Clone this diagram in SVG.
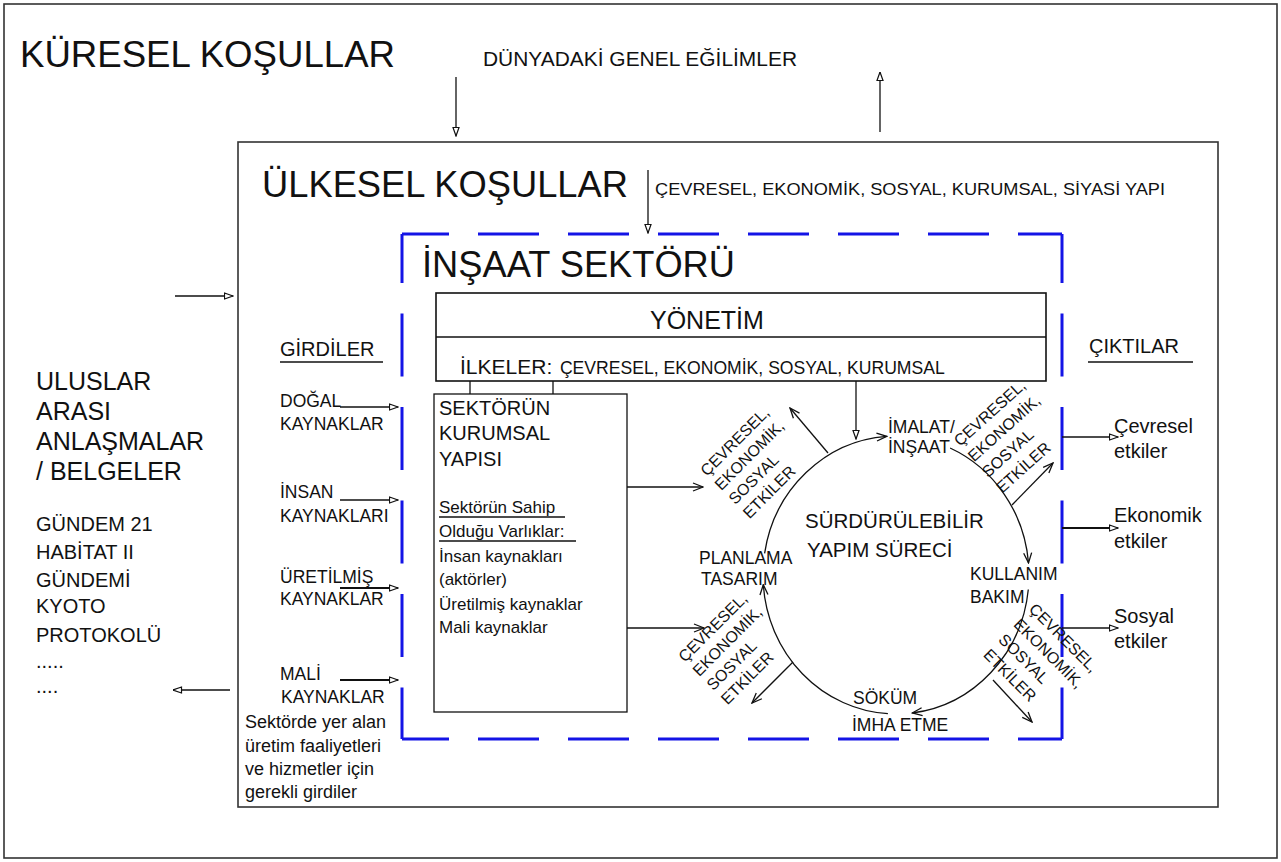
<svg xmlns="http://www.w3.org/2000/svg" width="1281" height="862" viewBox="0 0 1281 862">
<defs>
<style>
.t{font-family:"Liberation Sans",Arial,sans-serif;fill:#111}
.ln{stroke:#111;stroke-width:1.3;fill:none}
.thk{stroke:#111;stroke-width:2.2;fill:none}
.frame{stroke:#333;stroke-width:1.6;fill:#fff}
.blue{stroke:#1414e6;stroke-width:3;fill:none}
.rot{font-size:16px}
.lbl{font-size:17.5px}
</style>
<marker id="tri" viewBox="0 0 10 8" refX="9.5" refY="4" markerWidth="10" markerHeight="8" markerUnits="userSpaceOnUse" orient="auto"><path d="M1,1 L9.5,4 L1,7 Z" fill="#fff" stroke="#111" stroke-width="1.2"/></marker>
<marker id="vee" viewBox="0 0 12 10" refX="11" refY="5" markerWidth="12" markerHeight="10" markerUnits="userSpaceOnUse" orient="auto"><path d="M1,1 L11,5 L1,9" fill="none" stroke="#111" stroke-width="1.3"/></marker>
</defs>
<rect width="1281" height="862" fill="#fff"/>

<g id="kuresel">
<rect class="frame" x="4" y="4" width="1273" height="854"/>
<text class="t" x="20" y="67" font-size="37" textLength="375" lengthAdjust="spacingAndGlyphs">KÜRESEL KOŞULLAR</text>
<text class="t" x="483" y="66" font-size="21" textLength="314" lengthAdjust="spacingAndGlyphs">DÜNYADAKİ GENEL EĞİLİMLER</text>
</g>

<g id="uluslar">
<text class="t" font-size="25"><tspan x="36" y="390">ULUSLAR</tspan><tspan x="36" y="420">ARASI</tspan><tspan x="36" y="450">ANLAŞMALAR</tspan><tspan x="36" y="480">/ BELGELER</tspan></text>
<text class="t" font-size="20"><tspan x="36" y="531">GÜNDEM 21</tspan><tspan x="36" y="559">HABİTAT II</tspan><tspan x="36" y="587">GÜNDEMİ</tspan><tspan x="36" y="613">KYOTO</tspan><tspan x="36" y="642">PROTOKOLÜ</tspan><tspan x="36" y="668">.....</tspan><tspan x="36" y="693">....</tspan></text>
</g>

<g id="ulkesel">
<rect class="frame" x="238" y="142" width="980" height="665"/>
<text class="t" x="262" y="197" font-size="37" textLength="366" lengthAdjust="spacingAndGlyphs">ÜLKESEL KOŞULLAR</text>
<text class="t" x="655" y="195" font-size="17" textLength="510" lengthAdjust="spacingAndGlyphs">ÇEVRESEL, EKONOMİK, SOSYAL, KURUMSAL, SİYASİ YAPI</text>
</g>

<g id="girdiler">
<text class="t" x="280" y="356" font-size="20">GİRDİLER</text>
<line class="ln" x1="280" y1="362" x2="383" y2="362"/>
<text class="t lbl"><tspan x="280" y="407">DOĞAL</tspan><tspan x="280" y="430">KAYNAKLAR</tspan></text>
<text class="t lbl"><tspan x="280" y="498">İNSAN</tspan><tspan x="280" y="522">KAYNAKLARI</tspan></text>
<text class="t lbl"><tspan x="280" y="583">ÜRETİLMİŞ</tspan><tspan x="280" y="605">KAYNAKLAR</tspan></text>
<text class="t lbl"><tspan x="280" y="680">MALİ</tspan><tspan x="281" y="703">KAYNAKLAR</tspan></text>
<text class="t" font-size="18"><tspan x="245" y="728">Sektörde yer alan</tspan><tspan x="245" y="752">üretim faaliyetleri</tspan><tspan x="245" y="775">ve hizmetler için</tspan><tspan x="245" y="798">gerekli girdiler</tspan></text>
</g>

<g id="insaat-sektoru">
<line class="blue" x1="402" y1="234" x2="1062" y2="234" stroke-dasharray="61 29" stroke-dashoffset="14"/>
<line class="blue" x1="402" y1="739" x2="1062" y2="739" stroke-dasharray="61 29" stroke-dashoffset="14"/>
<line class="blue" x1="402" y1="234" x2="402" y2="739" stroke-dasharray="63 30.5" stroke-dashoffset="14"/>
<line class="blue" x1="1062" y1="234" x2="1062" y2="739" stroke-dasharray="63 30.5" stroke-dashoffset="14"/>
<text class="t" x="422" y="277" font-size="36" textLength="313" lengthAdjust="spacingAndGlyphs">İNŞAAT SEKTÖRÜ</text>
</g>

<g id="yonetim">
<rect x="436" y="293" width="610" height="88" fill="#fff" stroke="#111" stroke-width="1.6"/>
<line class="ln" x1="436" y1="337" x2="1046" y2="337" stroke-width="1.6"/>
<text class="t" x="650" y="329" font-size="25">YÖNETİM</text>
<text class="t" y="374"><tspan x="460" font-size="21">İLKELER:</tspan><tspan x="555" font-size="17.6"> ÇEVRESEL, EKONOMİK, SOSYAL, KURUMSAL</tspan></text>
</g>

<g id="kurumsal-yapi">
<line class="ln" x1="470" y1="381" x2="470" y2="394"/>
<line class="ln" x1="553" y1="381" x2="553" y2="394"/>
<rect x="434" y="394" width="193" height="318" fill="#fff" stroke="#111" stroke-width="1.3"/>
<text class="t" font-size="20"><tspan x="439" y="415">SEKTÖRÜN</tspan><tspan x="439" y="440">KURUMSAL</tspan><tspan x="439" y="466">YAPISI</tspan></text>
<text class="t" font-size="17"><tspan x="439" y="513">Sektörün Sahip</tspan><tspan x="439" y="537">Olduğu Varlıklar:</tspan><tspan x="439" y="562">İnsan kaynakları</tspan><tspan x="439" y="585">(aktörler)</tspan><tspan x="439" y="610">Üretilmiş kaynaklar</tspan><tspan x="439" y="633">Mali kaynaklar</tspan></text>
<line class="ln" x1="439" y1="517" x2="565" y2="517"/>
<line class="ln" x1="439" y1="541" x2="576" y2="541"/>
</g>

<g id="cikti">
<text class="t" x="1089" y="353" font-size="20">ÇIKTILAR</text>
<line class="ln" x1="1088" y1="362" x2="1193" y2="362"/>
<text class="t" font-size="20"><tspan x="1114" y="433">Çevresel</tspan><tspan x="1114" y="458">etkiler</tspan></text>
<text class="t" font-size="20"><tspan x="1114" y="522">Ekonomik</tspan><tspan x="1114" y="548">etkiler</tspan></text>
<text class="t" font-size="20"><tspan x="1114" y="623">Sosyal</tspan><tspan x="1114" y="648">etkiler</tspan></text>
</g>

<g id="surec">
<text class="t" font-size="20.5"><tspan x="805" y="528">SÜRDÜRÜLEBİLİR</tspan><tspan x="807" y="557">YAPIM SÜRECİ</tspan></text>
<text class="t lbl"><tspan x="888" y="433">İMALAT/</tspan><tspan x="888" y="453">İNŞAAT</tspan></text>
<text class="t lbl"><tspan x="970" y="580">KULLANIM</tspan><tspan x="970" y="603">BAKIM</tspan></text>
<text class="t lbl"><tspan x="853" y="704">SÖKÜM</tspan><tspan x="852" y="731">İMHA ETME</tspan></text>
<text class="t lbl"><tspan x="699" y="564">PLANLAMA</tspan><tspan x="701" y="585">TASARIM</tspan></text>
</g>

<g id="etkiler-1" transform="translate(707,477) rotate(-45)">
<text class="t rot"><tspan x="0" y="0">ÇEVRESEL,</tspan><tspan x="0" y="20">EKONOMİK,</tspan><tspan x="0" y="40">SOSYAL</tspan><tspan x="0" y="60">ETKİLER</tspan></text>
</g>
<g id="etkiler-2" transform="translate(960,447) rotate(-42)">
<text class="t rot"><tspan x="0" y="0">ÇEVRESEL,</tspan><tspan x="0" y="21">EKONOMİK,</tspan><tspan x="0" y="42">SOSYAL</tspan><tspan x="0" y="63">ETKİLER</tspan></text>
</g>
<g id="etkiler-3" transform="translate(1028,610) rotate(45)">
<text class="t rot"><tspan x="0" y="0">ÇEVRESEL,</tspan><tspan x="0" y="21.5">EKONOMİK,</tspan><tspan x="0" y="43">SOSYAL</tspan><tspan x="0" y="64.5">ETKİLER</tspan></text>
</g>
<g id="etkiler-4" transform="translate(685,663) rotate(-45)">
<text class="t rot"><tspan x="0" y="0">ÇEVRESEL,</tspan><tspan x="0" y="20">EKONOMİK,</tspan><tspan x="0" y="40">SOSYAL</tspan><tspan x="0" y="60">ETKİLER</tspan></text>
</g>

<g id="connectors">
<line class="ln" x1="456" y1="77" x2="456" y2="136" marker-end="url(#tri)"/>
<line class="ln" x1="880" y1="132" x2="880" y2="72" marker-end="url(#tri)"/>
<line class="ln" x1="648" y1="170" x2="648" y2="233" marker-end="url(#tri)"/>
<line class="ln" x1="175" y1="296" x2="233" y2="296" marker-end="url(#tri)"/>
<line class="ln" x1="230" y1="690" x2="173" y2="690" marker-end="url(#tri)"/>
<line class="ln" x1="340" y1="407" x2="398" y2="407" marker-end="url(#tri)"/>
<line class="ln" x1="340" y1="500" x2="398" y2="500" marker-end="url(#tri)"/>
<line class="thk" x1="340" y1="588" x2="398" y2="588" marker-end="url(#tri)"/>
<line class="thk" x1="340" y1="680" x2="398" y2="680" marker-end="url(#tri)"/>
<line class="ln" x1="1062" y1="437" x2="1118" y2="437" marker-end="url(#tri)"/>
<line class="thk" x1="1062" y1="528" x2="1118" y2="528" marker-end="url(#tri)"/>
<line class="ln" x1="1062" y1="628" x2="1118" y2="628" marker-end="url(#tri)"/>
<line class="ln" x1="856" y1="381" x2="856" y2="439" marker-end="url(#tri)"/>
<line class="ln" x1="627" y1="487" x2="703" y2="487" marker-end="url(#vee)"/>
<line class="ln" x1="627" y1="628" x2="704" y2="628" marker-end="url(#vee)"/>
<path class="ln" d="M764.6,553.3 A133,139 0 0 1 886.7,436.3" marker-end="url(#vee)"/>
<path class="ln" d="M950.1,448 A133,139 0 0 1 1028.5,562.9" marker-end="url(#vee)"/>
<path class="ln" d="M1028.3,589.5 A133,139 0 0 1 912.2,713" marker-end="url(#vee)"/>
<path class="ln" d="M887.9,713.7 A133,139 0 0 1 763.3,584.7" marker-end="url(#vee)"/>
<line class="ln" x1="828" y1="453" x2="790" y2="408" marker-end="url(#vee)"/>
<line class="ln" x1="1012" y1="505" x2="1053" y2="463" marker-end="url(#vee)"/>
<line class="ln" x1="793" y1="662" x2="752" y2="703" marker-end="url(#vee)"/>
<line class="ln" x1="993" y1="680" x2="1032" y2="722" marker-end="url(#vee)"/>
</g>
</svg>
